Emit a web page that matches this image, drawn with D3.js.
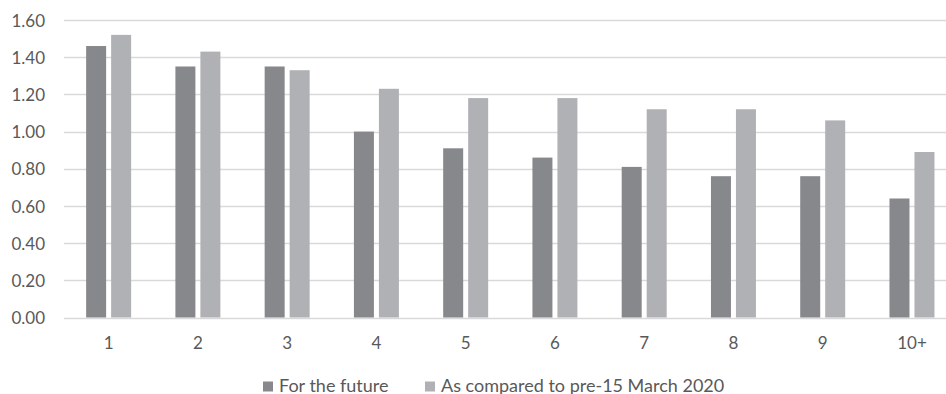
<!DOCTYPE html>
<html>
<head>
<meta charset="utf-8">
<script src="https://cdn.jsdelivr.net/npm/d3@7"></script>
<style>
  html, body { margin: 0; padding: 0; background: #fff; }
  svg { display: block; }
  text { font-family: Lato, "Open Sans", sans-serif; fill: #595959; }
</style>
</head>
<body>
<svg id="chart" width="946" height="394"></svg>
<script>
// Household size categories
const categories = ["1", "2", "3", "4", "5", "6", "7", "8", "9", "10+"];
// Series names
const seriesNames = ["For the future", "As compared to pre-15 March 2020"];
// Values per category for each series
const futureValues   = [1.46, 1.35, 1.35, 1.00, 0.91, 0.86, 0.81, 0.76, 0.76, 0.64];
const comparedValues = [1.52, 1.43, 1.33, 1.23, 1.18, 1.18, 1.12, 1.12, 1.06, 0.89];
// Y axis ticks
const yTicks = [0, 0.2, 0.4, 0.6, 0.8, 1.0, 1.2, 1.4, 1.6];

const colors = ["#87888c", "#b0b1b5"];
const seriesValues = [futureValues, comparedValues];

const svg = d3.select("#chart");
const tickFontSize = 17;
const legendFontSize = 18;

const x0 = d3.scaleBand()
  .domain(categories)
  .range([64, 956.6])
  .paddingInner(0.496)
  .paddingOuter(0.248);

const x1 = d3.scaleBand()
  .domain(seriesNames)
  .range([0, x0.bandwidth()])
  .paddingInner(0.2)
  .paddingOuter(0);

const y = d3.scaleLinear()
  .domain([0, 1.6])
  .range([317.5, 20]);

// Horizontal gridlines
svg.append("g")
  .selectAll("line")
  .data(yTicks)
  .join("line")
  .attr("x1", 64)
  .attr("x2", 946)
  .attr("y1", d => Math.round(y(d)) + 0.5)
  .attr("y2", d => Math.round(y(d)) + 0.5)
  .attr("stroke", "#d9d9d9")
  .attr("stroke-width", 1.3);

// Y axis labels
const yAxis = d3.axisLeft(y)
  .tickValues(yTicks)
  .tickFormat(d3.format(".2f"))
  .tickSize(0)
  .tickPadding(0);

svg.append("g")
  .attr("transform", "translate(45,0)")
  .call(yAxis)
  .call(g => g.select(".domain").remove())
  .call(g => g.selectAll("text")
    .attr("font-size", tickFontSize)
    .attr("font-family", null)
    .attr("fill", "#595959")
    .attr("dy", "0.36em"));

// Bars
const groups = svg.append("g")
  .selectAll("g")
  .data(categories)
  .join("g")
  .attr("transform", d => `translate(${x0(d)},0)`);

groups.selectAll("rect")
  .data((c, i) => seriesNames.map((s, j) => ({ s, v: seriesValues[j][i], j })))
  .join("rect")
  .attr("x", d => x1(d.s))
  .attr("width", x1.bandwidth())
  .attr("y", d => y(d.v))
  .attr("height", d => y(0) - y(d.v))
  .attr("fill", d => colors[d.j]);

// X axis labels
const xAxis = d3.axisBottom(x0).tickSize(0).tickPadding(0);
svg.append("g")
  .attr("transform", "translate(0,349)")
  .call(xAxis)
  .call(g => g.select(".domain").remove())
  .call(g => g.selectAll("text")
    .attr("font-size", tickFontSize)
    .attr("font-family", null)
    .attr("fill", "#595959")
    .attr("y", 0)
    .attr("dy", 0));

// Legend
const legend = svg.append("g");
const legendX = [263, 425];
seriesNames.forEach((name, i) => {
  legend.append("rect")
    .attr("x", legendX[i])
    .attr("y", 381.5)
    .attr("width", 10)
    .attr("height", 10)
    .attr("fill", colors[i]);
  legend.append("text")
    .attr("x", legendX[i] + 16)
    .attr("y", 391.5)
    .attr("font-size", legendFontSize)
    .text(name);
});
</script>
</body>
</html>
